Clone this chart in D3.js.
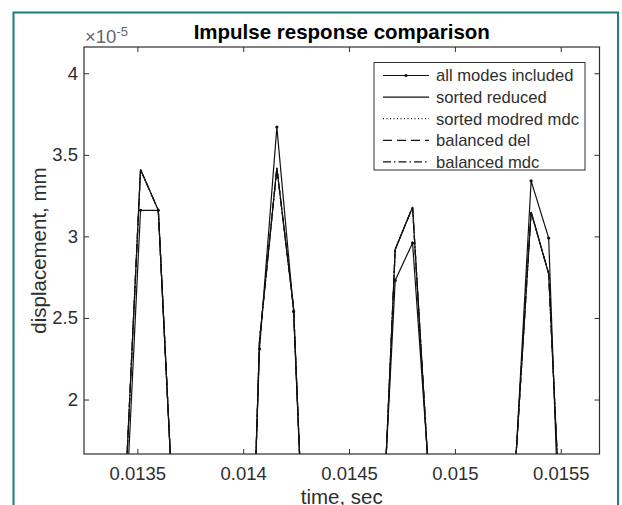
<!DOCTYPE html>
<html>
<head>
<meta charset="utf-8">
<script src="https://cdn.jsdelivr.net/npm/d3@7"></script>
<style>
  body { margin: 0; background: #fff; }
  svg { display: block; font-family: "Liberation Sans", Arial, sans-serif; }
</style>
</head>
<body>
<svg></svg>
<script>
// sample times (s) and responses (x 1e-5 mm)
var times = [0.013431, 0.013515, 0.013599, 0.013683,
             0.013993, 0.014077, 0.014159, 0.014238, 0.014321,
             0.014635, 0.014718, 0.014800, 0.014884,
             0.015276, 0.015360, 0.015443, 0.015527];
var allModes = [0.90, 3.16, 3.16, 0.94,
                -0.97, 2.31, 3.67, 2.54, -0.07,
                0.64, 2.73, 2.96, 1.41,
                1.35, 3.34, 2.99, -0.10];
var sortedReduced = [1.10, 3.41, 3.16, 0.94,
                     -1.18, 2.36, 3.42, 2.56, -0.05,
                     0.46, 2.92, 3.18, 1.36,
                     1.39, 3.15, 2.77, 0.44];
var sortedModredMdc = sortedReduced.slice();
var balancedDel = sortedReduced.slice();
var balancedMdc = sortedReduced.slice();

var seriesNames = ['all modes included', 'sorted reduced', 'sorted modred mdc', 'balanced del', 'balanced mdc'];
var xTicks = [0.0135, 0.014, 0.0145, 0.015, 0.0155];
var yTicks = [2, 2.5, 3, 3.5, 4];

var W = 622, H = 505;
var axL = 84, axR = 599.5, axT = 47, axB = 454;
var ink = '#2e2e2e';

var svg = d3.select('svg')
    .attr('width', W)
    .attr('height', H);

// teal window frame
svg.append('rect')
    .attr('x', 13.5)
    .attr('y', 12.5)
    .attr('width', 604.5)
    .attr('height', 520)
    .attr('fill', 'none')
    .attr('stroke', '#17807d')
    .attr('stroke-width', 2)

var x = d3.scaleLinear().domain([0.013248, 0.015683]).range([axL, axR]);
var y = d3.scaleLinear().domain([1.666, 4.161]).range([axB, axT]);

svg.append('clipPath').attr('id', 'clip')
    .append('rect')
    .attr('x', axL).attr('y', axT)
    .attr('width', axR - axL).attr('height', axB - axT)

var series = [
    {name: seriesNames[0], values: allModes, dash: null, dots: true},
    {name: seriesNames[1], values: sortedReduced, dash: null},
    {name: seriesNames[2], values: sortedModredMdc, dash: '1,2.5'},
    {name: seriesNames[3], values: balancedDel, dash: '9,5'},
    {name: seriesNames[4], values: balancedMdc, dash: '8,3,1.5,3'}
];

var line = d3.line()
    .x(function(d, i) { return x(times[i]); })
    .y(function(d) { return y(d); });

var plot = svg.append('g').attr('clip-path', 'url(#clip)');

series.forEach(function(s) {
    plot.append('path')
        .datum(s.values)
        .attr('d', line)
        .attr('fill', 'none')
        .attr('stroke', '#111')
        .attr('stroke-width', 1.2)
        .attr('stroke-dasharray', s.dash)
    if (s.dots) {
        plot.selectAll('.dot')
            .data(s.values)
            .enter().append('circle')
            .attr('class', 'dot')
            .attr('cx', function(d, i) { return x(times[i]); })
            .attr('cy', function(d) { return y(d); })
            .attr('r', 1.6)
            .attr('fill', '#111')
    }
});

// axes, ticks pointing inward on all four sides
var fontTick = '18.5px';

svg.append('g')
    .attr('transform', 'translate(0,' + axB + ')')
    .call(d3.axisBottom(x).tickValues(xTicks).tickSize(-5).tickPadding(13).tickFormat(d3.format('')))
svg.append('g')
    .attr('transform', 'translate(0,' + axT + ')')
    .call(d3.axisTop(x).tickValues(xTicks).tickSize(-5).tickFormat(''))
svg.append('g')
    .attr('transform', 'translate(' + axL + ',0)')
    .call(d3.axisLeft(y).tickValues(yTicks).tickSize(-5).tickPadding(6).tickFormat(d3.format('')))
svg.append('g')
    .attr('transform', 'translate(' + axR + ',0)')
    .call(d3.axisRight(y).tickValues(yTicks).tickSize(-5).tickFormat(''))

svg.selectAll('.domain').remove()
svg.selectAll('.tick line').attr('stroke', ink).attr('stroke-width', 1)
svg.selectAll('.tick text')
    .attr('fill', ink)
    .style('font-size', fontTick)
    .style('font-family', '"Liberation Sans", Arial, sans-serif')

svg.append('rect')
    .attr('x', axL).attr('y', axT)
    .attr('width', axR - axL).attr('height', axB - axT)
    .attr('fill', 'none')
    .attr('stroke', ink)
    .attr('stroke-width', 1.2)

// exponent
var expo = svg.append('text')
    .attr('x', 85)
    .attr('y', 43)
    .attr('fill', '#666')
    .style('font-size', '18.5px')
expo.append('tspan').text('\u00d710')
expo.append('tspan').text('-5').attr('dy', -7).style('font-size', '13px')

// title and labels
svg.append('text')
    .text('Impulse response comparison')
    .attr('x', (axL + axR) / 2)
    .attr('y', 39)
    .attr('text-anchor', 'middle')
    .attr('font-weight', 'bold')
    .attr('fill', '#000')
    .style('font-size', '20.5px')

svg.append('text')
    .text('time, sec')
    .attr('x', (axL + axR) / 2)
    .attr('y', 504)
    .attr('text-anchor', 'middle')
    .attr('fill', ink)
    .style('font-size', '20.5px')

svg.append('text')
    .text('displacement, mm')
    .attr('transform', 'translate(46,' + ((axT + axB) / 2) + ') rotate(-90)')
    .attr('text-anchor', 'middle')
    .attr('fill', ink)
    .style('font-size', '20.5px')

// legend
var lg = svg.append('g')
lg.append('rect')
    .attr('x', 374).attr('y', 62.5)
    .attr('width', 211).attr('height', 107.5)
    .attr('fill', '#fff')
    .attr('stroke', ink)
    .attr('stroke-width', 1)

series.forEach(function(s, i) {
    var ly = 75.5 + i * 21.6;
    lg.append('line')
        .attr('x1', 383).attr('x2', 429)
        .attr('y1', ly).attr('y2', ly)
        .attr('stroke', '#111')
        .attr('stroke-width', 1.2)
        .attr('stroke-dasharray', s.dash)
    if (s.dots) {
        lg.append('circle')
            .attr('cx', 406).attr('cy', ly).attr('r', 1.6)
            .attr('fill', '#111')
    }
    lg.append('text')
        .text(s.name)
        .attr('x', 436)
        .attr('y', ly)
        .attr('dy', '0.35em')
        .attr('fill', ink)
        .style('font-size', '16.6px')
});
</script>
</body>
</html>
